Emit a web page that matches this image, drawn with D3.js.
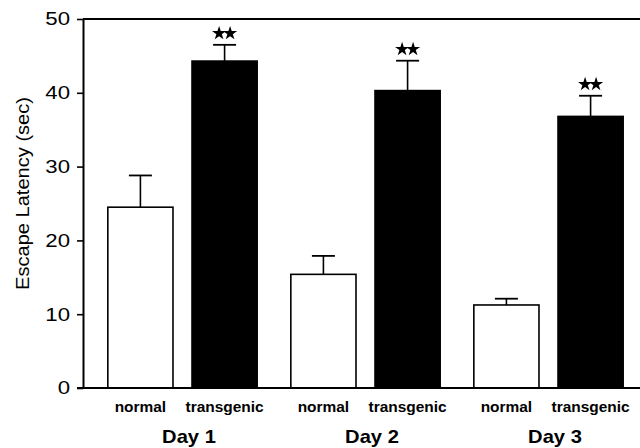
<!DOCTYPE html>
<html>
<head>
<meta charset="utf-8">
<script src="https://d3js.org/d3.v7.min.js"></script>
<style>
  body { margin: 0; background: #fff; }
  svg { display: block; }
  text { font-family: "Liberation Sans", Arial, sans-serif; fill: #000; }
</style>
</head>
<body>
<svg width="640" height="448"></svg>
<script>
var days = ["Day 1", "Day 2", "Day 3"];
var groups = ["normal", "transgenic"];
var normalMean = [24.5, 15.4, 11.25];
var normalErr = [4.3, 2.5, 0.85];
var transgenicMean = [44.3, 40.3, 36.8];
var transgenicErr = [2.2, 4.05, 2.8];
var significant = [true, true, true];
var yTicks = [0, 10, 20, 30, 40, 50];

var svg = d3.select("svg");

var bars = [];
days.forEach(function(day, i) {
    bars.push({ day: day, group: "normal", mean: normalMean[i], err: normalErr[i], star: false });
    bars.push({ day: day, group: "transgenic", mean: transgenicMean[i], err: transgenicErr[i], star: significant[i] });
});

var y = d3.scaleLinear().domain([0, 50]).range([388, 19]);

var x = d3.scaleBand().domain(days).range([91, 640]).padding(0);

var xInner = d3.scaleBand()
    .domain(groups)
    .range([0, x.bandwidth()])
    .paddingInner(0.226)
    .paddingOuter(0.2);

function stretch(sel, k) {
    sel.each(function() {
        var w = this.getComputedTextLength();
        d3.select(this).attr("textLength", w * k).attr("lengthAdjust", "spacingAndGlyphs");
    });
}

// bars
var bar = svg.append("g").selectAll("g")
    .data(bars)
    .enter()
    .append("g")
    .attr("transform", function(d) { return "translate(" + (x(d.day) + xInner(d.group)) + ",0)"; });

// error bars first so the bar covers the stem
bar.append("line")
    .attr("x1", xInner.bandwidth() / 2)
    .attr("x2", xInner.bandwidth() / 2)
    .attr("y1", function(d) { return y(d.mean); })
    .attr("y2", function(d) { return y(d.mean + d.err); })
    .attr("stroke", "#000")
    .attr("stroke-width", 1.6);

bar.append("line")
    .attr("x1", xInner.bandwidth() / 2 - 11.5)
    .attr("x2", xInner.bandwidth() / 2 + 11.5)
    .attr("y1", function(d) { return y(d.mean + d.err); })
    .attr("y2", function(d) { return y(d.mean + d.err); })
    .attr("stroke", "#000")
    .attr("stroke-width", 1.8);

bar.append("rect")
    .attr("x", 0)
    .attr("y", function(d) { return y(d.mean); })
    .attr("width", xInner.bandwidth())
    .attr("height", function(d) { return y(0) - y(d.mean); })
    .attr("fill", function(d) { return d.group == "normal" ? "#fff" : "#000"; })
    .attr("stroke", "#000")
    .attr("stroke-width", 1.6);

// significance stars
var star = d3.symbol().type(d3.symbolStar).size(62);
bar.filter(function(d) { return d.star; })
    .selectAll("path.star")
    .data(function(d) { return [d, d].map(function(e, j) { return { d: e, j: j }; }); })
    .enter()
    .append("path")
    .attr("class", "star")
    .attr("d", star)
    .attr("fill", "#000")
    .attr("transform", function(s) {
        return "translate(" + (xInner.bandwidth() / 2 + (s.j == 0 ? -5.5 : 5.5)) + "," + (y(s.d.mean + s.d.err) - 11.5) + ")";
    });

// frame: top line and bottom axis line
svg.append("line")
    .attr("x1", 83).attr("x2", 640)
    .attr("y1", y(50)).attr("y2", y(50))
    .attr("stroke", "#000").attr("stroke-width", 2);

svg.append("line")
    .attr("x1", 77).attr("x2", 640)
    .attr("y1", y(0)).attr("y2", y(0))
    .attr("stroke", "#000").attr("stroke-width", 2);

// y axis
var yAxis = svg.append("g")
    .attr("transform", "translate(83,0)")
    .call(d3.axisLeft(y).tickValues(yTicks).tickSize(6).tickPadding(7).tickSizeOuter(0));

yAxis.select(".domain").attr("stroke-width", 2);
yAxis.selectAll(".tick line").attr("stroke-width", 1.6);
yAxis.selectAll(".tick text")
    .attr("font-family", "Liberation Sans, Arial, sans-serif")
    .attr("font-size", 18.5)
    .attr("fill", "#000")
    .call(stretch, 1.2);

svg.append("text")
    .attr("transform", "translate(23," + 193.5 + ") rotate(-90)")
    .attr("text-anchor", "middle")
    .attr("dominant-baseline", "central")
    .attr("font-size", 18)
    .text("Escape Latency (sec)")
    .call(stretch, 1.115);

// group labels
bar.append("text")
    .attr("x", xInner.bandwidth() / 2)
    .attr("y", 412)
    .attr("text-anchor", "middle")
    .attr("font-size", 15)
    .attr("font-weight", "bold")
    .text(function(d) { return d.group; })
    .call(stretch, 1.03);

// day labels
svg.append("g").selectAll("text")
    .data(days)
    .enter()
    .append("text")
    .attr("x", function(d) { return x(d) + x.bandwidth() / 2 + 6.5; })
    .attr("y", 442.5)
    .attr("text-anchor", "middle")
    .attr("font-size", 19)
    .attr("font-weight", "bold")
    .text(function(d) { return d; })
    .call(stretch, 1.06);
</script>
</body>
</html>
